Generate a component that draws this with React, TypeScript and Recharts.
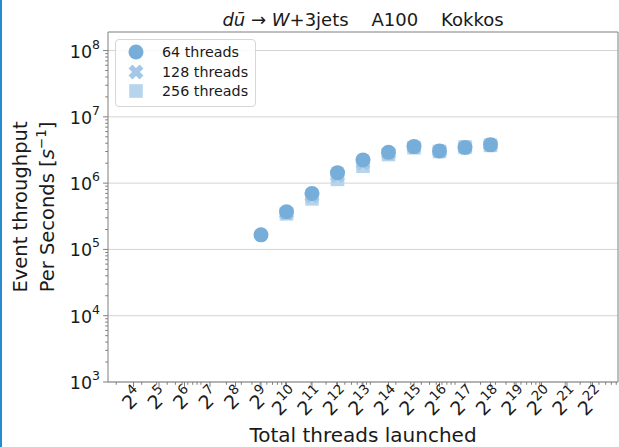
import React from 'react';
import {
  ScatterChart,
  Scatter,
  XAxis,
  YAxis,
  CartesianGrid,
  Legend,
  ReferenceLine,
} from 'recharts';

// launched threads = 2^exponent; null = no run at that size
const exponents = [9, 10, 11, 12, 13, 14, 15, 16, 17, 18];
const threads64 = [1.66e5, 3.7e5, 7.0e5, 1.44e6, 2.24e6, 2.93e6, 3.56e6, 3.06e6, 3.44e6, 3.78e6];
const threads128 = [null, 3.55e5, 6.4e5, 1.3e6, 2.02e6, 2.82e6, 3.5e6, 3.04e6, 3.46e6, 3.76e6];
const threads256 = [null, 3.45e5, 5.8e5, 1.14e6, 1.8e6, 2.7e6, 3.42e6, 3.0e6, 3.5e6, 3.72e6];

const seriesNames = ['64 threads', '128 threads', '256 threads'];
const xMajorExps = [4, 5, 6, 7, 8, 9, 10, 11, 12, 13, 14, 15, 16, 17, 18, 19, 20, 21, 22];
const yMajorExps = [3, 4, 5, 6, 7, 8];
const minorSubs = [1, 2, 3, 4, 5, 6, 7, 8, 9];

const X_MIN = 2 ** 3;
const X_MAX = 2 ** 23;
const Y_MIN = 1e3;
const Y_MAX = 10 ** 8.28;

const FONT = '"DejaVu Sans", sans-serif';
const AXIS = '#7f7f7f';
const TEXT = '#1a1a1a';
const C64 = '#77aed9';
const C128 = '#a4c8e6';
const C256 = '#b6d4ec';

const toRows = (vals: (number | null)[]) =>
  exponents
    .map((e, i) => ({ x: 2 ** e, y: vals[i] }))
    .filter((r) => r.y !== null);
const rows64 = toRows(threads64);
const rows128 = toRows(threads128);
const rows256 = toRows(threads256);

// base-2 majors plus decimal minor ticks, as the log axis draws them
const xMinor: number[] = [];
for (let n = 1; n <= 7; n++) {
  for (const k of minorSubs) {
    const v = k * 10 ** n;
    if (v > X_MIN && v < X_MAX) xMinor.push(v);
  }
}
const xTicks = [...xMajorExps.map((e) => 2 ** e), ...xMinor].sort((a, b) => a - b);

const yMinor: number[] = [];
for (const n of yMajorExps) {
  for (const k of minorSubs.slice(1)) {
    const v = k * 10 ** n;
    if (v < Y_MAX) yMinor.push(v);
  }
}
const yMajor = yMajorExps.map((e) => 10 ** e);
const yTicks = [...yMajor, ...yMinor].sort((a, b) => a - b);

const isPow = (v: number, logFn: (n: number) => number) =>
  Math.abs(logFn(v) - Math.round(logFn(v))) < 1e-6;

function XTick(props: any) {
  const { x, y, payload } = props;
  const v = payload.value as number;
  if (!isPow(v, Math.log2)) {
    return <line x1={x} y1={y} x2={x} y2={y + 2.8} stroke={AXIS} strokeWidth={1} />;
  }
  const e = Math.round(Math.log2(v));
  const w = 0.636 * 19 + 0.636 * 13.5 * String(e).length;
  const half = (w + 15) / Math.SQRT2 / 2;
  const cy = y + 4 + half;
  return (
    <g>
      <line x1={x} y1={y} x2={x} y2={y + 4.9} stroke={AXIS} strokeWidth={1} />
      <text
        transform={`translate(${x - 1},${cy}) rotate(-45)`}
        textAnchor="middle"
        dy="0.35em"
        fontSize={19}
        fontFamily={FONT}
        fill={TEXT}
      >
        2<tspan dy={-9} fontSize={13.5}>{e}</tspan>
      </text>
    </g>
  );
}

function YTick(props: any) {
  const { x, y, payload } = props;
  const v = payload.value as number;
  if (!isPow(v, Math.log10)) {
    return <line x1={x} y1={y} x2={x - 2.8} y2={y} stroke={AXIS} strokeWidth={1} />;
  }
  const e = Math.round(Math.log10(v));
  return (
    <g>
      <line x1={x} y1={y} x2={x - 4.9} y2={y} stroke={AXIS} strokeWidth={1} />
      <text x={x - 8} y={y + 7} textAnchor="end" fontSize={17.5} fontFamily={FONT} fill={TEXT}>
        10<tspan dy={-9} fontSize={12.5}>{e}</tspan>
      </text>
    </g>
  );
}

function xMarkPath(cx: number, cy: number, L: number, w: number) {
  const pts = [
    [w, L], [w, w], [L, w], [L, -w], [w, -w], [w, -L],
    [-w, -L], [-w, -w], [-L, -w], [-L, w], [-w, w], [-w, L],
  ];
  return (
    pts
      .map(([px, py], i) => {
        const rx = cx + (px - py) / Math.SQRT2;
        const ry = cy + (px + py) / Math.SQRT2;
        return `${i === 0 ? 'M' : 'L'}${rx.toFixed(2)},${ry.toFixed(2)}`;
      })
      .join(' ') + ' Z'
  );
}

const CircleMark = (p: any) => <circle cx={p.cx} cy={p.cy} r={7.5} fill={C64} />;
const CrossMark = (p: any) => <path d={xMarkPath(p.cx, p.cy, 7.8, 2.8)} fill={C128} />;
const SquareMark = (p: any) => (
  <rect x={p.cx - 6.8} y={p.cy - 6.8} width={13.6} height={13.6} fill={C256} />
);

function LegendBox() {
  const marks = [
    <circle cx={10} cy={10} r={7.5} fill={C64} />,
    <path d={xMarkPath(10, 10, 7.8, 2.8)} fill={C128} />,
    <rect x={3.2} y={3.2} width={13.6} height={13.6} fill={C256} />,
  ];
  return (
    <div
      style={{
        width: 141,
        height: 68,
        boxSizing: 'border-box',
        border: '1px solid #d6d6d6',
        borderRadius: 4,
        background: 'rgba(255,255,255,0.85)',
        fontFamily: FONT,
        fontSize: 14.3,
        color: TEXT,
        paddingTop: 2,
      }}
    >
      {seriesNames.map((name, i) => (
        <div key={name} style={{ display: 'flex', alignItems: 'center', height: 19.7 }}>
          <svg width={20} height={20} style={{ marginLeft: 10, marginRight: 16 }}>
            {marks[i]}
          </svg>
          <span>{name}</span>
        </div>
      ))}
    </div>
  );
}

export default function App() {
  return (
    <div
      style={{
        position: 'absolute',
        left: 0,
        top: 0,
        width: 619,
        height: 447,
        background: '#fff',
        overflow: 'hidden',
      }}
    >
      <ScatterChart width={619} height={447} margin={{ top: 32, right: 1, bottom: 0, left: 0 }}>
        <CartesianGrid
          vertical={false}
          horizontalValues={yMajor}
          stroke="#d4d4d4"
          strokeWidth={1}
        />
        <XAxis
          type="number"
          dataKey="x"
          scale="log"
          domain={[X_MIN, X_MAX]}
          ticks={xTicks}
          interval={0}
          allowDataOverflow
          height={65}
          tickSize={0}
          tickMargin={0}
          tickLine={false}
          axisLine={{ stroke: AXIS }}
          tick={<XTick />}
        />
        <YAxis
          type="number"
          dataKey="y"
          scale="log"
          domain={[Y_MIN, Y_MAX]}
          ticks={yTicks}
          interval={0}
          allowDataOverflow
          width={108}
          tickSize={0}
          tickMargin={0}
          tickLine={false}
          axisLine={{ stroke: AXIS }}
          tick={<YTick />}
        />
        <ReferenceLine y={Y_MAX} stroke={AXIS} ifOverflow="visible" />
        <ReferenceLine x={X_MAX} stroke={AXIS} ifOverflow="visible" />
        <Scatter name={seriesNames[2]} data={rows256} shape={SquareMark} isAnimationActive={false} />
        <Scatter name={seriesNames[1]} data={rows128} shape={CrossMark} isAnimationActive={false} />
        <Scatter name={seriesNames[0]} data={rows64} shape={CircleMark} isAnimationActive={false} />
        <Legend
          layout="horizontal"
          verticalAlign="middle"
          content={<LegendBox />}
          wrapperStyle={{ left: 115, top: 39, width: 141, height: 68 }}
        />
      </ScatterChart>
      <svg
        width={619}
        height={447}
        style={{ position: 'absolute', left: 0, top: 0, pointerEvents: 'none' }}
        fontFamily={FONT}
        fill={TEXT}
      >
        <text x={363} y={26} textAnchor="middle" fontSize={18}>
          <tspan fontStyle="italic">dū</tspan>
          {'\u00a0→\u00a0'}
          <tspan fontStyle="italic">W</tspan>
          {'+3jets\u00a0\u00a0\u00a0\u00a0A100\u00a0\u00a0\u00a0\u00a0Kokkos'}
        </text>
        <text x={363} y={442} textAnchor="middle" fontSize={20}>
          Total threads launched
        </text>
        <text transform="translate(27,207) rotate(-90)" textAnchor="middle" fontSize={19.5}>
          Event throughput
        </text>
        <text transform="translate(53.5,207) rotate(-90)" textAnchor="middle" fontSize={19.5}>
          {'Per Seconds ['}
          <tspan fontStyle="italic">s</tspan>
          <tspan dy={-8} fontSize={13.5}>−1</tspan>
          <tspan dy={8}>]</tspan>
        </text>
      </svg>
      <div
        style={{
          position: 'absolute',
          left: 0,
          top: 0,
          width: 2,
          height: 447,
          background: '#2a8ad0',
        }}
      />
    </div>
  );
}
